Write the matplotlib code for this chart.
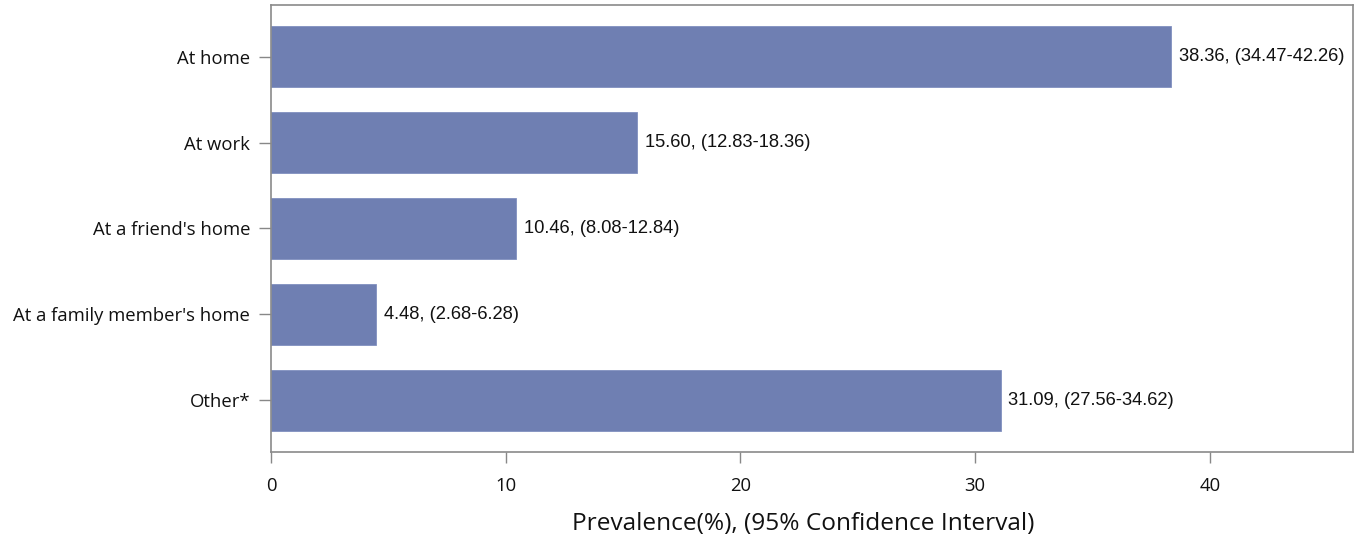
import matplotlib.pyplot as plt

# -------------------------
# Data
# -------------------------
categories = ["At home", "At work", "At a friend's home",
              "At a family member's home", "Other*"]
prevalence = [38.36, 15.60, 10.46, 4.48, 31.09]
ci_low = [34.47, 12.83, 8.08, 2.68, 27.56]
ci_high = [42.26, 18.36, 12.84, 6.28, 34.62]
xticks = [0, 10, 20, 30, 40]

# -------------------------
# Plot
# -------------------------
fig = plt.figure(figsize=(13.59, 5.36), dpi=100)
ax = fig.add_axes([0.1994, 0.1567, 0.7962, 0.834])

pos = list(range(len(categories)))
ax.barh(pos, prevalence, height=0.70, color="#6f7fb2", edgecolor="#8190c0", linewidth=0.6)

for y, v, lo, hi in zip(pos, prevalence, ci_low, ci_high):
    ax.annotate(f"{v:.2f}, ({lo:.2f}-{hi:.2f})", xy=(v, y), xytext=(5.5, 0),
                textcoords="offset points", va="center", ha="left",
                fontsize=13.2, family="Liberation Sans", color="#111111")

ax.set_xlim(0, 46.1)
ax.set_ylim(4.6, -0.6)
ax.set_yticks(pos)
ax.set_yticklabels(categories, family="Open Sans", fontsize=13.3, color="#111111")
ax.set_xticks(xticks)
ax.set_xticklabels([str(t) for t in xticks], family="Open Sans", fontsize=13.3, color="#111111")
ax.tick_params(axis="y", length=9, width=1, color="#888888", pad=6)
ax.tick_params(axis="x", length=8, width=1, color="#888888", pad=10)

for s in ax.spines.values():
    s.set_color("#8a8a8a")
    s.set_linewidth(1.2)

ax.set_xlabel("Prevalence(%), (95% Confidence Interval)", family="Open Sans",
              fontsize=17.6, color="#111111", labelpad=12)
ax.xaxis.label.set_x(0.492)

fig.savefig("out.png", dpi=100)
